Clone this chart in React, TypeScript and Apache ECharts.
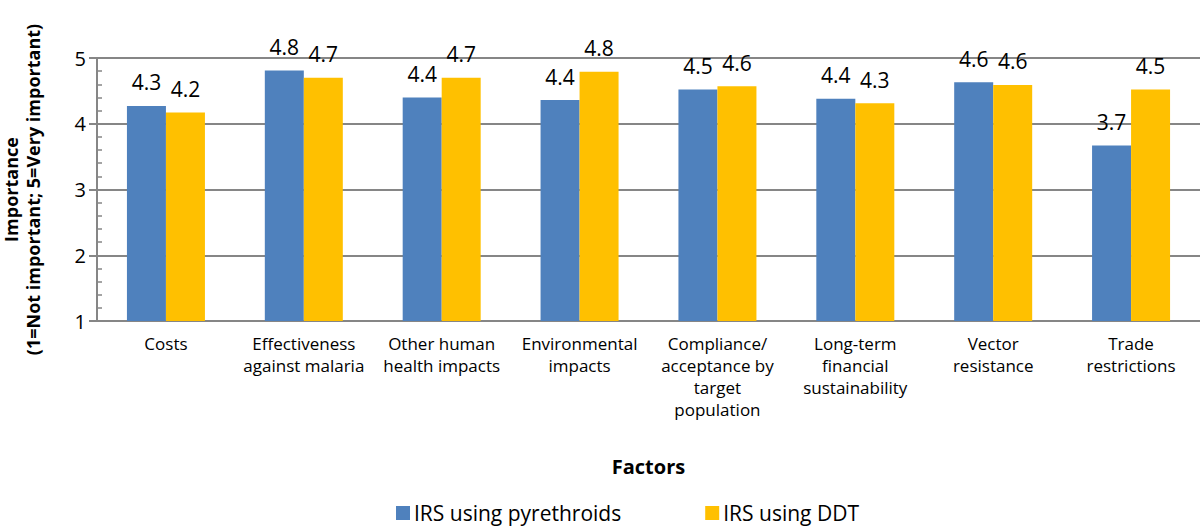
import React, { useEffect, useRef } from "react";
import * as echarts from "echarts";

const categories = [
  "Costs",
  "Effectiveness\nagainst malaria",
  "Other human\nhealth impacts",
  "Environmental\nimpacts",
  "Compliance/\nacceptance by\ntarget\npopulation",
  "Long-term\nfinancial\nsustainability",
  "Vector\nresistance",
  "Trade\nrestrictions",
];
const pyrethroids = [4.27, 4.81, 4.4, 4.36, 4.52, 4.38, 4.63, 3.67];
const ddt = [4.17, 4.7, 4.7, 4.79, 4.57, 4.31, 4.59, 4.52];
const seriesNames = ["IRS using pyrethroids", "IRS using DDT"];
const yTicks = { min: 1, max: 5, interval: 1 };

const FONT = "'Open Sans', sans-serif";

export default function App() {
  const ref = useRef<HTMLDivElement>(null);
  useEffect(() => {
    if (!ref.current) return;
    const chart = echarts.init(ref.current, null, { renderer: "svg" });
    const labelOpt = {
      show: true,
      position: "top",
      distance: 13,
      color: "#000",
      fontSize: 21,
      fontFamily: FONT,
      formatter: (p: any) => Number(p.value).toFixed(1),
    };
    chart.setOption({
      animation: false,
      backgroundColor: "#fff",
      textStyle: { fontFamily: FONT },
      grid: {
        left: 97,
        right: 0,
        top: 58,
        bottom: 206,
        containLabel: false,
        outerBoundsMode: "none",
      },
      legend: {
        data: seriesNames,
        top: 502,
        left: 396,
        padding: 0,
        itemWidth: 14,
        itemHeight: 14,
        itemGap: 84,
        icon: "rect",
        textStyle: { fontSize: 21, color: "#000", fontFamily: FONT, lineHeight: 22, padding: [0, 0, 0, -1] },
      },
      xAxis: {
        type: "category",
        data: categories,
        name: "Factors",
        nameLocation: "middle",
        nameGap: 135,
        nameTextStyle: { fontSize: 20, fontWeight: "bold", color: "#000", fontFamily: FONT },
        axisLine: { lineStyle: { color: "#868686", width: 2 } },
        axisTick: { show: false },
        axisLabel: {
          interval: 0,
          color: "#000",
          fontSize: 17,
          lineHeight: 22,
          margin: 11,
          fontFamily: FONT,
        },
      },
      yAxis: {
        type: "value",
        min: yTicks.min,
        max: yTicks.max,
        interval: yTicks.interval,
        name: "Importance\n(1=Not important; 5=Very important)",
        nameLocation: "middle",
        nameRotate: 90,
        nameGap: 53,
        nameTextStyle: { fontSize: 18, fontWeight: "bold", color: "#000", lineHeight: 22, fontFamily: FONT },
        axisLine: { show: true, lineStyle: { color: "#868686", width: 2 } },
        axisTick: { show: true, length: 8, lineStyle: { color: "#868686", width: 2 } },
        minorTick: { show: true, splitNumber: 5, length: -5, lineStyle: { color: "#868686", width: 1.5 } },
        splitLine: { show: true, lineStyle: { color: "#868686", width: 2 } },
        axisLabel: { color: "#000", fontSize: 20, margin: 11, fontFamily: FONT },
      },
      series: [
        {
          name: seriesNames[0],
          type: "bar",
          data: pyrethroids,
          barWidth: 39,
          barGap: "0%",
          itemStyle: { color: "#4F81BD" },
          label: labelOpt,
        },
        {
          name: seriesNames[1],
          type: "bar",
          data: ddt,
          barWidth: 39,
          barGap: "0%",
          itemStyle: { color: "#FFC000" },
          label: labelOpt,
        },
      ],
    });
    return () => chart.dispose();
  }, []);
  return (
    <div
      ref={ref}
      style={{ position: "absolute", left: 0, top: 0, width: 1200, height: 527 }}
    />
  );
}
